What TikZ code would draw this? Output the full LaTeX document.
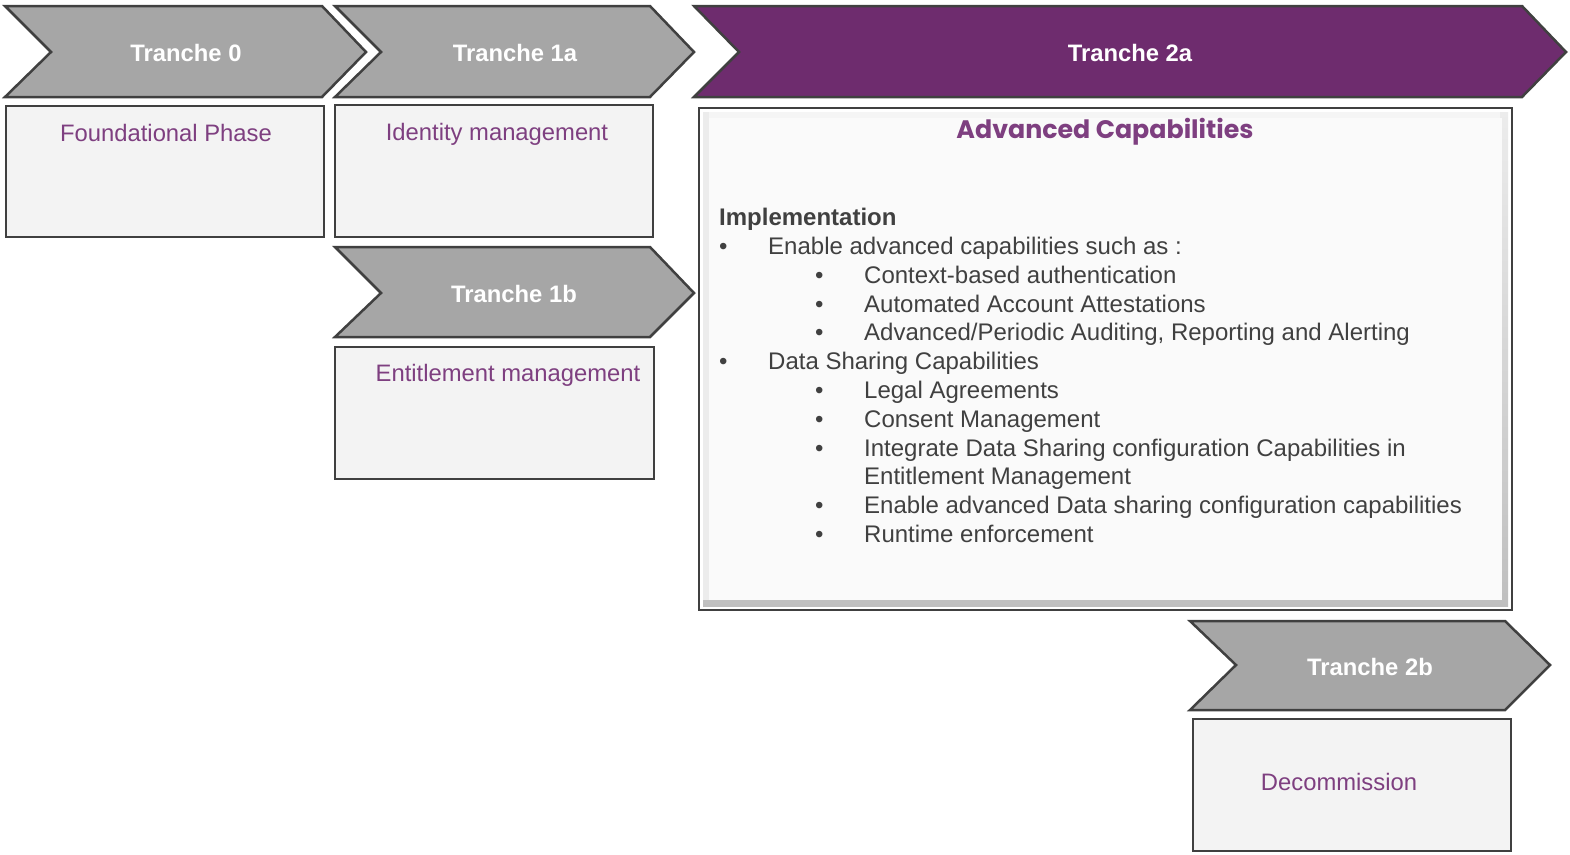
\documentclass[tikz,border=0pt]{standalone}
\usepackage{fontspec}
\setmainfont{Liberation Sans}
\newfontfamily\titlefont{Poppins}
\definecolor{chgray}{HTML}{A6A6A6}
\definecolor{edge}{HTML}{404040}
\definecolor{plum}{HTML}{6E2C6E}
\definecolor{ptext}{HTML}{7E3F80}
\definecolor{bodytext}{HTML}{404040}
\definecolor{boxfill}{HTML}{F3F3F3}
\begin{document}
\begin{tikzpicture}[x=1pt,y=-1pt,
  chev/.style={draw=edge, line width=2.5pt, fill=chgray, line join=miter},
  chevp/.style={draw=edge, line width=2.5pt, fill=plum, line join=miter},
  chevtxt/.style={text=white, font=\fontsize{23.8}{28}\selectfont\bfseries, inner sep=0, anchor=base},
  pbox/.style={draw=edge, line width=2.5pt, fill=boxfill},
  ptxt/.style={text=ptext, font=\fontsize{23.8}{28}\selectfont, inner sep=0, anchor=base},
  btxt/.style={text=bodytext, font=\fontsize{24}{28}\selectfont, inner sep=0, anchor=base west},
  bhead/.style={btxt, font=\fontsize{24}{28}\selectfont\bfseries},
]
\useasboundingbox (0,0) rectangle (1570,854);

% chevrons
\draw[chev] (5,6) -- (322,6) -- (366,52) -- (322,97) -- (5,97) -- (51,52) -- cycle;
\node[chevtxt] (t0) at (186,61) {Tranche 0};
\draw[chev] (335,6) -- (650,6) -- (694,52) -- (650,97) -- (335,97) -- (381,52) -- cycle;
\node[chevtxt] (t1a) at (515,61) {Tranche 1a};
\draw[chevp] (694,6) -- (1522,6) -- (1566,52) -- (1522,97) -- (694,97) -- (739,52) -- cycle;
\node[chevtxt] (t2a) at (1130,61) {Tranche 2a};
\draw[chev] (335,247) -- (650,247) -- (694,293) -- (650,337) -- (335,337) -- (381,293) -- cycle;
\node[chevtxt] (t1b) at (514,302) {Tranche 1b};
\draw[chev] (1190,621) -- (1505,621) -- (1550,665) -- (1505,710) -- (1190,710) -- (1236,665) -- cycle;
\node[chevtxt] (t2b) at (1370,675) {Tranche 2b};

% plain boxes
\draw[pbox] (6,106) rectangle (324,237);
\node[ptxt] (fp) at (166,141) {Foundational Phase};
\draw[pbox] (335,105) rectangle (653,237);
\node[ptxt] (im) at (497,140) {Identity management};
\draw[pbox] (335,347) rectangle (654,479);
\node[ptxt] (em) at (508,381) {Entitlement management};
\draw[pbox] (1193,719) rectangle (1511,851);
\node[ptxt] (dc) at (1339,790) {Decommission};

% advanced box with bevel
\draw[draw=edge, line width=2.5pt, fill=white] (699,108) rectangle (1512,610);
\shade[top color=gray!15, bottom color=gray!50] (703,112) rectangle (1508,606);
\fill[gray!8] (703,112) rectangle (1500,118);
\fill[gray!15] (703,112) rectangle (709,600);
\fill[white!98!black] (709,118) rectangle (1502,600);
\node[text=ptext, font=\titlefont\fontsize{25.3}{30}\selectfont\bfseries, inner sep=0, anchor=base] (ac) at (1105,138) {Advanced Capabilities};

\node[bhead] (impl) at (719,225) {Implementation};
\node[btxt] (b1) at (719,254) {\textbullet};
\node[btxt] (l1) at (768,254) {Enable advanced capabilities such as :};
\node[btxt] (b2) at (815,283) {\textbullet};
\node[btxt] (l2) at (864,283) {Context-based authentication};
\node[btxt] (b3) at (815,312) {\textbullet};
\node[btxt] (l3) at (864,312) {Automated Account Attestations};
\node[btxt] (b4) at (815,340) {\textbullet};
\node[btxt] (l4) at (864,340) {Advanced/Periodic Auditing, Reporting and Alerting};
\node[btxt] (b5) at (719,369) {\textbullet};
\node[btxt] (l5) at (768,369) {Data Sharing Capabilities};
\node[btxt] (b6) at (815,398) {\textbullet};
\node[btxt] (l6) at (864,398) {Legal Agreements};
\node[btxt] (b7) at (815,427) {\textbullet};
\node[btxt] (l7) at (864,427) {Consent Management};
\node[btxt] (b8) at (815,456) {\textbullet};
\node[btxt] (l8) at (864,456) {Integrate Data Sharing configuration Capabilities in};
\node[btxt] (l8b) at (864,484) {Entitlement Management};
\node[btxt] (b9) at (815,513) {\textbullet};
\node[btxt] (l9) at (864,513) {Enable advanced Data sharing configuration capabilities};
\node[btxt] (b10) at (815,542) {\textbullet};
\node[btxt] (l10) at (864,542) {Runtime enforcement};
\end{tikzpicture}
\end{document}
